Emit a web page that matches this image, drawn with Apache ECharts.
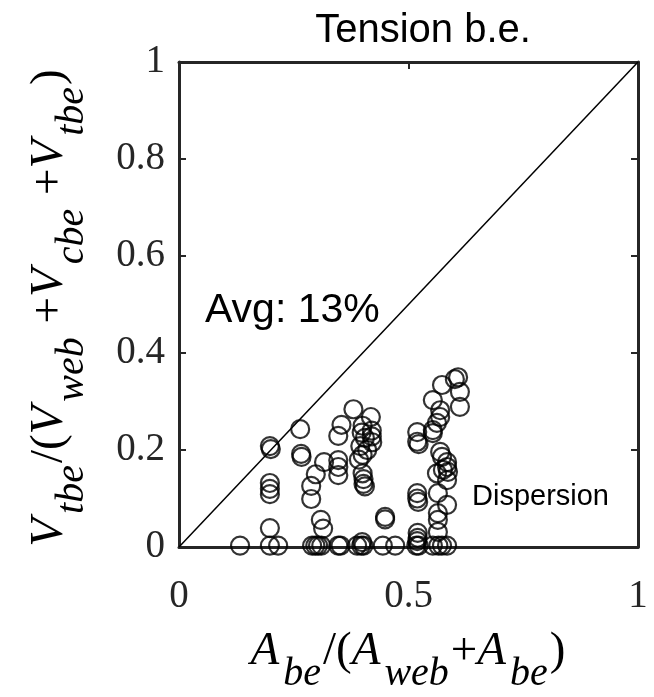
<!DOCTYPE html>
<html>
<head>
<meta charset="utf-8">
<script src="https://cdn.jsdelivr.net/npm/echarts@6/dist/echarts.min.js"></script>
<style>
  html, body { margin: 0; padding: 0; background: #fff; }
  #main { width: 654px; height: 697px; }
</style>
</head>
<body>
<div id="main"></div>
<script>
// A_be/(A_web+A_be) 和 V_tbe/(V_web+V_cbe+V_tbe)，从图上读出来的
var ratioA = [
  0.133,
  0.198, 0.200, 0.198, 0.198, 0.198, 0.198, 0.198, 0.216,
  0.264, 0.266, 0.267, 0.316, 0.298, 0.288, 0.288, 0.309, 0.314,
  0.290, 0.297, 0.303, 0.310,
  0.347, 0.352, 0.388, 0.397, 0.402, 0.399,
  0.444, 0.471, 0.517, 0.522, 0.519, 0.553, 0.565, 0.573, 0.584,
  0.354, 0.347, 0.347, 0.347, 0.347,
  0.380, 0.418, 0.400, 0.398, 0.405, 0.420, 0.420, 0.421, 0.395, 0.410, 0.400, 0.392, 0.400, 0.402, 0.402, 0.405,
  0.449, 0.449,
  0.519, 0.519, 0.522, 0.519, 0.519, 0.521, 0.520, 0.520,
  0.553, 0.553,
  0.573, 0.553, 0.569, 0.569, 0.562,
  0.608, 0.601, 0.612, 0.612,
  0.569, 0.573, 0.584, 0.584, 0.586, 0.575, 0.562, 0.584,
  0.564, 0.584, 0.564, 0.564, 0.564
]
var ratioV = [
  0.003,
  0.208, 0.202, 0.132, 0.120, 0.109, 0.039, 0.003, 0.003,
  0.243, 0.192, 0.186, 0.175, 0.150, 0.126, 0.099, 0.056, 0.038,
  0.003, 0.003, 0.003, 0.003,
  0.003, 0.003, 0.003, 0.003, 0.003, 0.010,
  0.003, 0.003, 0.003, 0.003, 0.012, 0.003, 0.003, 0.003, 0.003,
  0.252, 0.229, 0.179, 0.165, 0.148,
  0.284, 0.268, 0.250, 0.236, 0.225, 0.240, 0.228, 0.216, 0.208, 0.200, 0.190, 0.180, 0.152, 0.140, 0.130, 0.125,
  0.062, 0.057,
  0.237, 0.217, 0.212, 0.111, 0.100, 0.093, 0.029, 0.019,
  0.241, 0.235,
  0.334, 0.303, 0.282, 0.268, 0.256,
  0.350, 0.346, 0.320, 0.289,
  0.196, 0.186, 0.175, 0.165, 0.155, 0.159, 0.152, 0.138,
  0.111, 0.087, 0.070, 0.056, 0.031
]
// 对角线 y = x
var diagX = [0, 1]
var diagY = [0, 1]

var titleText = 'Tension b.e.'
var avgText = 'Avg: 13%'
var noteText = 'Dispersion'

var points = ratioA.map(function (a, i) { return [a, ratioV[i]] })
var diag = diagX.map(function (d, i) { return [d, diagY[i]] })

var axisColor = '#262626'
var serif = 'Liberation Serif, Times New Roman, serif'
var sans = 'Liberation Sans, Arial, Helvetica, sans-serif'

// 斜体主符号 + 下标
var mathRich = {
  i: { fontFamily: serif, fontStyle: 'italic', fontSize: 47, color: axisColor, verticalAlign: 'top' },
  s: { fontFamily: serif, fontStyle: 'italic', fontSize: 40, color: axisColor, verticalAlign: 'top', padding: [26, 2, 0, 4] },
  n: { fontFamily: serif, fontSize: 47, color: axisColor, verticalAlign: 'top' }
}

var myChart = echarts.init(document.getElementById('main'))

var option = {
  animation: false,
  backgroundColor: '#fff',
  grid: { left: 179, top: 62, right: 16, bottom: 150, containLabel: false },
  title: {
    text: titleText,
    left: 418,
    top: 6,
    textAlign: 'center',
    textStyle: { fontFamily: sans, fontWeight: 'normal', fontSize: 40, color: '#000' }
  },
  xAxis: [
    {
      type: 'value', min: 0, max: 1, interval: 0.5, position: 'bottom',
      axisLine: { onZero: false, lineStyle: { color: axisColor, width: 3 } },
      axisTick: { inside: true, length: 7, lineStyle: { color: axisColor, width: 2 } },
      axisLabel: { margin: 30, fontFamily: serif, fontSize: 39, color: axisColor },
      splitLine: { show: false }
    },
    {
      type: 'value', min: 0, max: 1, interval: 0.5, position: 'top',
      axisLine: { onZero: false, lineStyle: { color: axisColor, width: 3 } },
      axisTick: { inside: true, length: 7, lineStyle: { color: axisColor, width: 2 } },
      axisLabel: { show: false },
      splitLine: { show: false }
    }
  ],
  yAxis: [
    {
      type: 'value', min: 0, max: 1, interval: 0.2, position: 'left',
      axisLine: { show: true, onZero: false, lineStyle: { color: axisColor, width: 3 } },
      axisTick: { show: true, inside: true, length: 7, lineStyle: { color: axisColor, width: 2 } },
      axisLabel: { margin: 14, fontFamily: serif, fontSize: 39, color: axisColor },
      splitLine: { show: false }
    },
    {
      type: 'value', min: 0, max: 1, interval: 0.2, position: 'right',
      axisLine: { show: true, onZero: false, lineStyle: { color: axisColor, width: 3 } },
      axisTick: { show: true, inside: true, length: 7, lineStyle: { color: axisColor, width: 2 } },
      axisLabel: { show: false },
      splitLine: { show: false }
    }
  ],
  graphic: [
    {
      type: 'text', left: 205, top: 290, silent: true,
      style: { text: avgText, font: '41px ' + sans, fill: '#000' }
    },
    {
      type: 'text', left: 472, top: 482, silent: true,
      style: { text: noteText, font: '29px ' + sans, fill: '#000' }
    },
    {
      // x 轴名称
      type: 'text', x: 408, y: 628, silent: true,
      style: {
        text: '{i|A}{s|be}{n|/(}{i|A}{s|web}{n|+}{i|A}{s|be}{n|)}',
        rich: mathRich, align: 'center', verticalAlign: 'top'
      }
    },
    {
      // y 轴名称，旋转 90 度
      type: 'text', x: 26, y: 308, rotation: Math.PI / 2, silent: true,
      style: {
        text: '{i|V}{s|tbe}{n|/(}{i|V}{s|web}{n| +}{i|V}{s|cbe}{n| +}{i|V}{s|tbe}{n|)}',
        rich: mathRich, align: 'center', verticalAlign: 'top'
      }
    }
  ],
  series: [
    {
      type: 'line', data: diag, symbol: 'none', silent: true,
      lineStyle: { color: '#000', width: 1.5 }, z: 1
    },
    {
      type: 'scatter', data: points, symbol: 'circle', symbolSize: 18, silent: true,
      itemStyle: { color: 'rgba(0,0,0,0)', borderColor: '#000', borderWidth: 2.2 }, z: 3
    }
  ]
}

myChart.setOption(option)
</script>
</body>
</html>
